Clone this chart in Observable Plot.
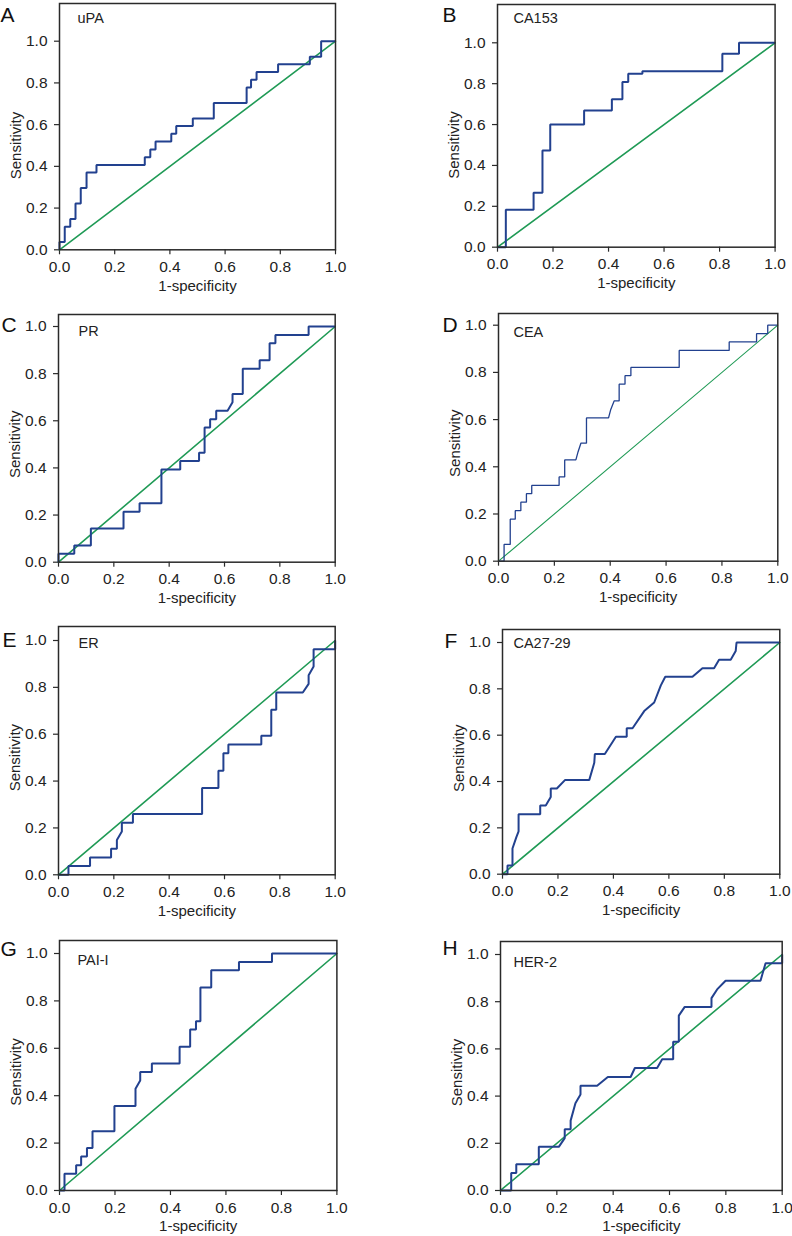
<!DOCTYPE html>
<html><head><meta charset="utf-8">
<script src="https://cdn.jsdelivr.net/npm/d3@7"></script>
<script src="https://cdn.jsdelivr.net/npm/@observablehq/plot@0.6"></script>
<style>
body{margin:0;background:#fff;}
#root{position:relative;width:792px;height:1236px;overflow:hidden;background:#fff;}
#root svg{position:absolute;}
</style></head><body><div id="root"></div>
<script>
// ---- data ----
const tickValues = [0, 0.2, 0.4, 0.6, 0.8, 1.0];
const tickLabels = ["0.0", "0.2", "0.4", "0.6", "0.8", "1.0"];
const xLabel = "1-specificity";
const yLabel = "Sensitivity";
const panelLetters = ["A", "B", "C", "D", "E", "F", "G", "H"];
const markerNames = ["uPA", "CA153", "PR", "CEA", "ER", "CA27-29", "PAI-I", "HER-2"];
const refX = [0, 1];
const refY = [0, 1];

const uPA_x = [0,0,0.019,0.019,0.039,0.039,0.058,0.058,0.077,0.077,0.098,0.098,0.134,0.134,0.309,0.309,0.329,0.329,0.348,0.348,0.405,0.405,0.423,0.423,0.483,0.483,0.559,0.559,0.678,0.678,0.694,0.694,0.714,0.714,0.792,0.792,0.907,0.907,0.948,0.948,1];
const uPA_y = [0,0.037,0.037,0.111,0.111,0.148,0.148,0.222,0.222,0.296,0.296,0.370,0.370,0.407,0.407,0.444,0.444,0.481,0.481,0.519,0.519,0.556,0.556,0.593,0.593,0.630,0.630,0.704,0.704,0.778,0.778,0.815,0.815,0.852,0.852,0.889,0.889,0.926,0.926,1,1];

const CA153_x = [0,0.03,0.03,0.13,0.13,0.162,0.162,0.19,0.19,0.312,0.312,0.412,0.412,0.45,0.45,0.471,0.471,0.522,0.522,0.81,0.81,0.87,0.87,1];
const CA153_y = [0,0,0.183,0.183,0.266,0.266,0.473,0.473,0.6,0.6,0.669,0.669,0.724,0.724,0.808,0.808,0.848,0.848,0.861,0.861,0.946,0.946,1,1];

const PR_x = [0,0,0.057,0.057,0.117,0.117,0.235,0.235,0.293,0.293,0.372,0.372,0.44,0.44,0.508,0.508,0.528,0.528,0.548,0.548,0.57,0.57,0.611,0.629,0.629,0.666,0.666,0.727,0.727,0.763,0.763,0.784,0.784,0.904,0.904,1];
const PR_y = [0,0.036,0.036,0.071,0.071,0.143,0.143,0.214,0.214,0.25,0.25,0.393,0.393,0.429,0.429,0.464,0.464,0.571,0.571,0.607,0.607,0.643,0.643,0.679,0.714,0.714,0.821,0.821,0.857,0.857,0.929,0.929,0.964,0.964,1,1];

const CEA_x = [0,0.02,0.02,0.042,0.042,0.06,0.06,0.08,0.08,0.1,0.1,0.119,0.119,0.217,0.217,0.237,0.237,0.277,0.285,0.295,0.315,0.315,0.394,0.402,0.414,0.432,0.432,0.453,0.453,0.474,0.474,0.647,0.647,0.826,0.826,0.924,0.924,0.964,0.964,1];
const CEA_y = [0,0,0.071,0.071,0.178,0.178,0.214,0.214,0.25,0.25,0.286,0.286,0.321,0.321,0.357,0.357,0.429,0.429,0.464,0.5,0.5,0.607,0.607,0.643,0.679,0.679,0.75,0.75,0.786,0.786,0.821,0.821,0.893,0.893,0.929,0.929,0.964,0.964,1,1];

const ER_x = [0,0.036,0.036,0.114,0.114,0.19,0.19,0.211,0.211,0.229,0.229,0.269,0.269,0.519,0.519,0.578,0.578,0.596,0.596,0.614,0.614,0.733,0.733,0.769,0.769,0.787,0.787,0.883,0.904,0.904,0.922,0.922,1,1];
const ER_y = [0,0,0.037,0.037,0.074,0.074,0.111,0.111,0.148,0.185,0.222,0.222,0.259,0.259,0.370,0.370,0.444,0.444,0.519,0.519,0.556,0.556,0.593,0.593,0.704,0.704,0.778,0.778,0.815,0.852,0.889,0.963,0.963,1];

const CA2729_x = [0,0.018,0.018,0.036,0.036,0.050,0.058,0.058,0.136,0.136,0.156,0.174,0.174,0.196,0.226,0.313,0.331,0.333,0.369,0.409,0.448,0.448,0.469,0.511,0.547,0.571,0.587,0.685,0.721,0.763,0.781,0.823,0.841,0.844,1];
const CA2729_y = [0,0,0.037,0.037,0.111,0.160,0.185,0.259,0.259,0.296,0.296,0.333,0.370,0.370,0.407,0.407,0.481,0.519,0.519,0.593,0.593,0.630,0.630,0.704,0.741,0.815,0.852,0.852,0.889,0.889,0.926,0.926,0.963,1,1];

const PAI_x = [0,0.018,0.018,0.06,0.06,0.078,0.078,0.099,0.099,0.119,0.119,0.198,0.198,0.274,0.274,0.291,0.291,0.333,0.333,0.433,0.433,0.471,0.471,0.492,0.492,0.508,0.508,0.547,0.547,0.647,0.647,0.766,0.766,1];
const PAI_y = [0,0,0.071,0.071,0.107,0.107,0.143,0.143,0.179,0.179,0.25,0.25,0.357,0.357,0.429,0.464,0.5,0.5,0.536,0.536,0.607,0.607,0.679,0.679,0.714,0.714,0.857,0.857,0.929,0.929,0.964,0.964,1,1];

const HER2_x = [0,0.038,0.038,0.056,0.056,0.136,0.136,0.207,0.228,0.228,0.249,0.249,0.266,0.284,0.284,0.343,0.381,0.462,0.477,0.556,0.574,0.613,0.613,0.633,0.633,0.654,0.749,0.749,0.769,0.799,0.923,0.941,1,1];
const HER2_y = [0,0,0.074,0.074,0.111,0.111,0.185,0.185,0.222,0.259,0.259,0.296,0.370,0.407,0.444,0.444,0.481,0.481,0.519,0.519,0.556,0.556,0.630,0.630,0.741,0.778,0.778,0.815,0.852,0.889,0.889,0.963,0.963,1];

const curveXs = [uPA_x, CA153_x, PR_x, CEA_x, ER_x, CA2729_x, PAI_x, HER2_x];
const curveYs = [uPA_y, CA153_y, PR_y, CEA_y, ER_y, CA2729_y, PAI_y, HER2_y];

// ---- layout (pixel boxes of each frame) ----
// l,r: frame left/right; t: frame top; y1: pixel of sensitivity 1.0; b: pixel of 0.0
const layout = [
  {l: 59,    r: 335,   t: 3,     y1: 40.7,  b: 249.3,  lx: -59, ly: 12, nx: 18, ny: 15, thin: false},
  {l: 496.7, r: 774.3, t: 4,     y1: 42.3,  b: 246.7,  lx: -55, ly: 11, nx: 16, ny: 14, thin: false},
  {l: 58.3,  r: 335,   t: 314,   y1: 326,   b: 561.7,  lx: -57, ly: 11, nx: 20, ny: 17, thin: false},
  {l: 497.7, r: 777,   t: 313.3, y1: 325,   b: 561,    lx: -56, ly: 12, nx: 15, ny: 19, thin: true},
  {l: 58.3,  r: 335,   t: 626,   y1: 640,   b: 874.3,  lx: -56, ly: 14, nx: 20, ny: 17, thin: false},
  {l: 501.7, r: 779,   t: 629,   y1: 642,   b: 873.7,  lx: -58, ly: 12, nx: 11, ny: 14, thin: false},
  {l: 59.3,  r: 336.7, t: 940,   y1: 953,   b: 1190,   lx: -59, ly: 9,  nx: 18, ny: 20, thin: false},
  {l: 500,   r: 781.7, t: 940.7, y1: 953.7, b: 1189.7, lx: -58, ly: 7,  nx: 13, ny: 21, thin: false}
];

const FONT = "'Liberation Sans', Arial, Helvetica, sans-serif";
const BLUE = "#22418f";
const GREEN = "#1f9a55";
const INK = "#2a2a2a";

const root = document.getElementById("root");
const fmt = d => tickLabels[tickValues.indexOf(d)];

layout.forEach((L, i) => {
  const mL = 62, mR = 6, mT = 3, mB = 50;
  const width = L.r - L.l + mL + mR;
  const height = L.b - L.t + mT + mB;
  const ymax = (L.b - L.t) / (L.b - L.y1);
  const curve = curveXs[i].map((x, j) => ({x, y: curveYs[i][j]}));
  const diag = refX.map((x, j) => ({x, y: refY[j]}));
  const svg = Plot.plot({
    width, height,
    marginLeft: mL, marginRight: mR, marginTop: mT, marginBottom: mB,
    style: {fontFamily: FONT, fontSize: "15px", color: INK, background: "transparent", overflow: "visible"},
    x: {domain: [0, 1]},
    y: {domain: [0, ymax]},
    marks: [
      Plot.axisX({ticks: tickValues, tickFormat: fmt, tickSize: 5, tickPadding: 6, label: null, fontSize: 15.5, stroke: INK, strokeWidth: 1.2, fill: "#222"}),
      Plot.axisY({ticks: tickValues, tickFormat: fmt, tickSize: 5, tickPadding: 7, label: null, fontSize: 15.5, stroke: INK, strokeWidth: 1.2, fill: "#222"}),
      Plot.line(diag, {x: "x", y: "y", stroke: GREEN, strokeWidth: L.thin ? 1.1 : 1.6}),
      Plot.line(curve, {x: "x", y: "y", stroke: BLUE, strokeWidth: L.thin ? 1.3 : 2, strokeLinejoin: "miter", strokeLinecap: "butt"}),
      Plot.frame({stroke: INK, strokeWidth: 1.5}),
      Plot.text([markerNames[i]], {text: d => d, frameAnchor: "top-left", dx: L.nx, dy: L.ny, textAnchor: "start", lineAnchor: "middle", fontSize: 14.5, fill: "#222"}),
      Plot.text([panelLetters[i]], {text: d => d, frameAnchor: "top-left", dx: L.lx, dy: L.ly, textAnchor: "start", lineAnchor: "middle", fontSize: 21, fill: "#111"}),
      Plot.text([xLabel], {text: d => d, frameAnchor: "bottom", dy: 36, textAnchor: "middle", lineAnchor: "middle", fontSize: 15, fill: "#222"}),
      Plot.text([yLabel], {text: d => d, frameAnchor: "left", dx: -43, dy: (L.y1 - L.t) / 2, rotate: -90, textAnchor: "middle", lineAnchor: "middle", fontSize: 15, fill: "#222"})
    ]
  });
  svg.style.left = (L.l - mL) + "px";
  svg.style.top = (L.t - mT) + "px";
  root.appendChild(svg);
});
</script>
</body></html>
